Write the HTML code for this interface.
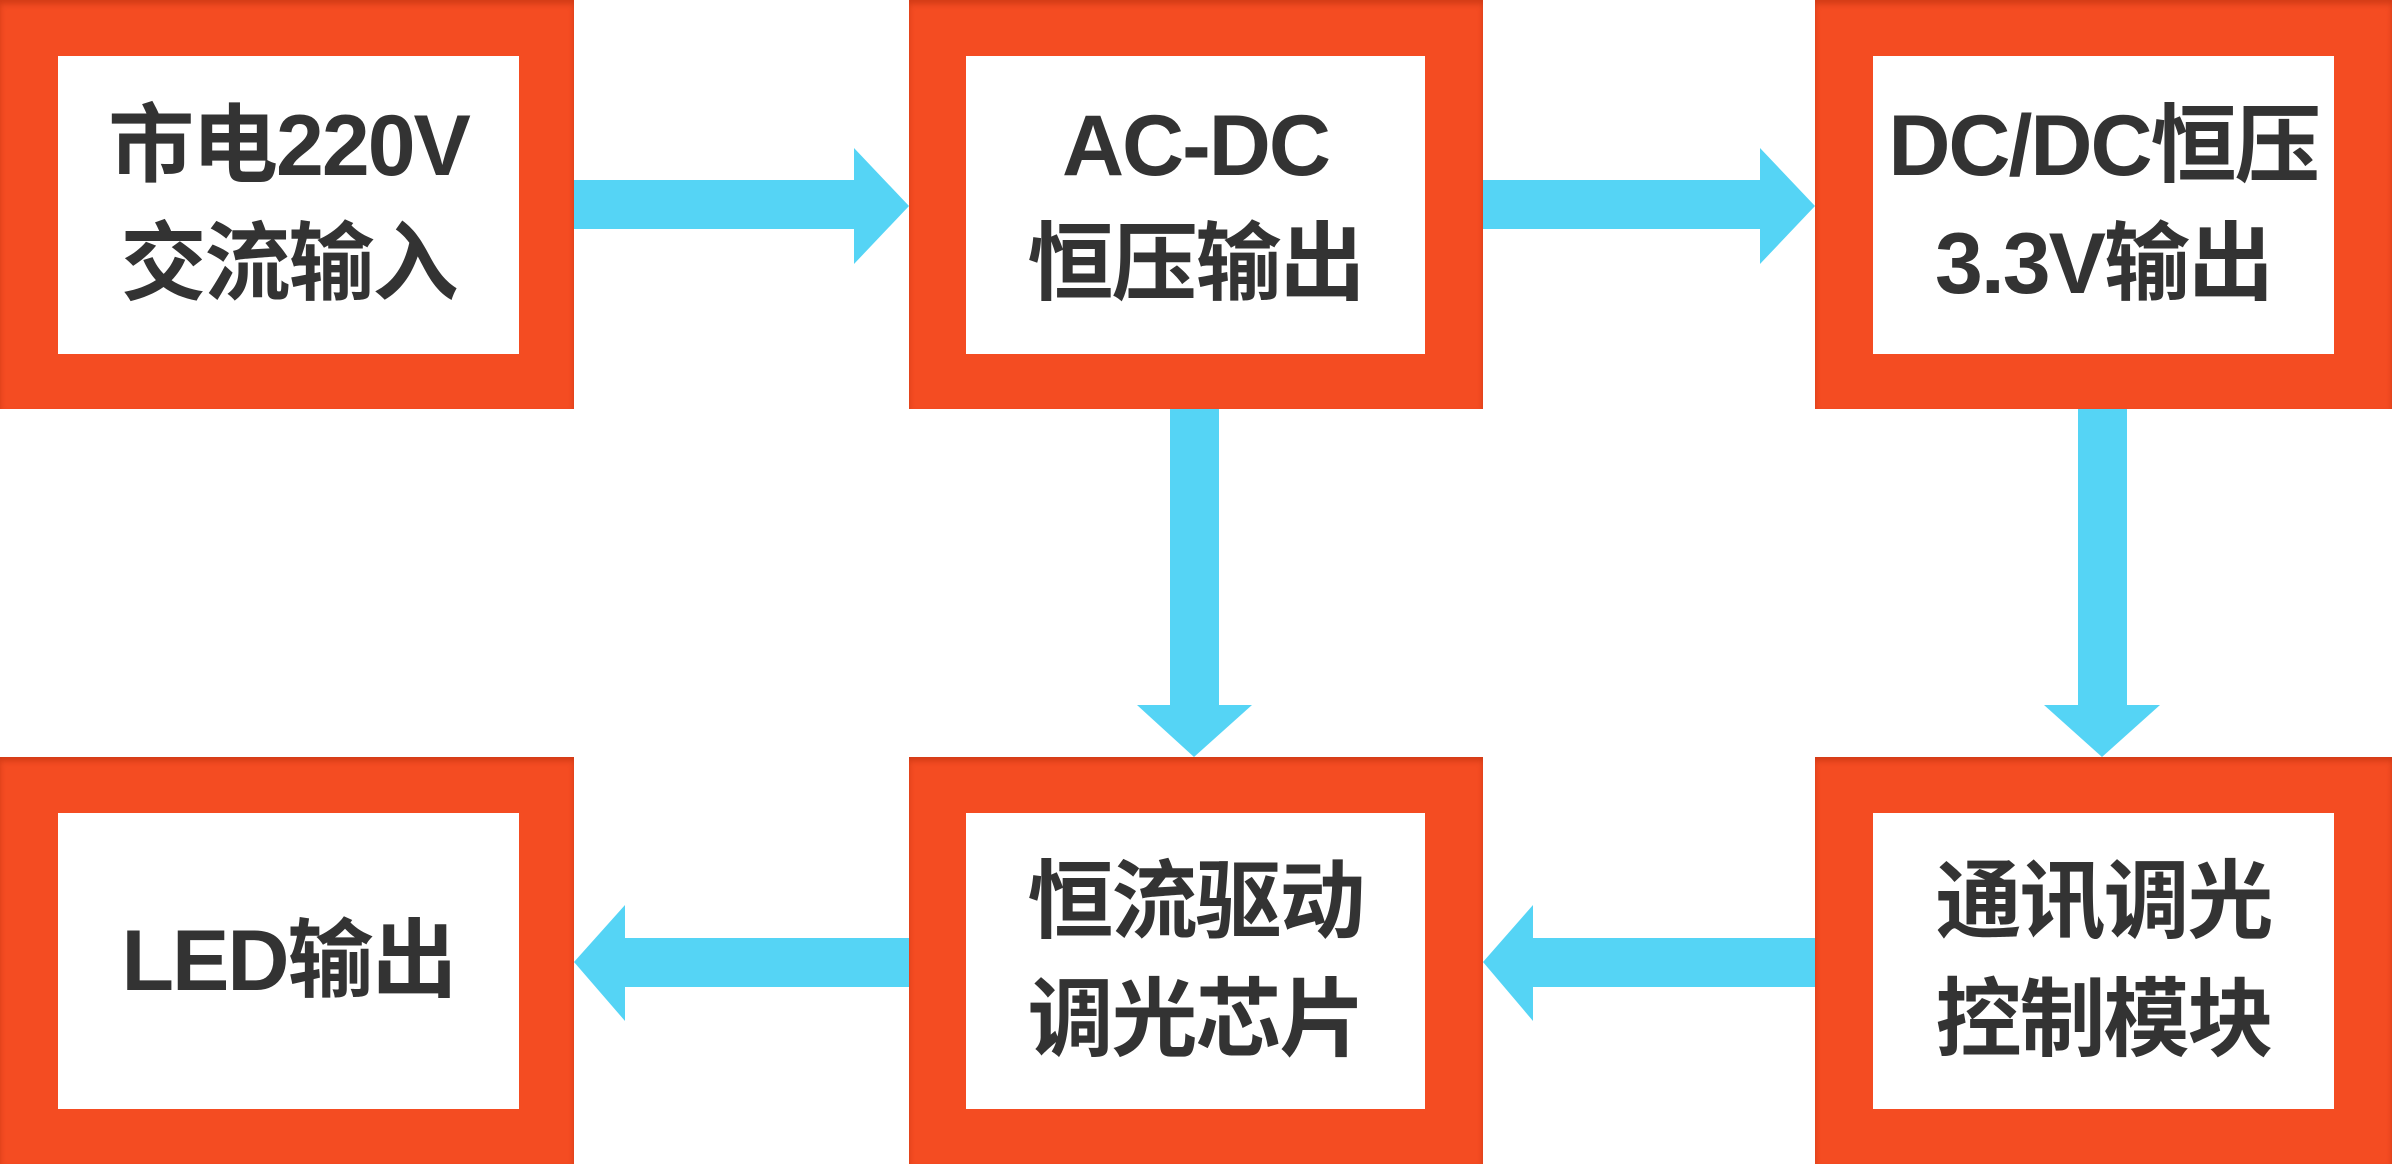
<!DOCTYPE html>
<html><head><meta charset="utf-8"><style>
html,body{margin:0;padding:0;background:#fff;}
body{width:2392px;height:1164px;position:relative;overflow:hidden;font-family:"Liberation Sans","Noto Sans CJK SC",sans-serif;}
.box{position:absolute;background:#f44c22;box-shadow:inset 0 4px 6px rgba(150,30,0,0.35);}
.in{position:absolute;background:#fff;display:flex;align-items:center;justify-content:center;text-align:center;font-weight:bold;font-size:86px;line-height:118px;letter-spacing:-2px;color:#333;white-space:nowrap;}
svg{position:absolute;left:0;top:0;}
</style></head><body>
<div class="box" style="left:0;top:0;width:574px;height:409px"></div>
<div class="in" style="left:58px;top:56px;width:461px;height:298px">市电220V<br>交流输入</div>
<div class="box" style="left:909px;top:0;width:574px;height:409px"></div>
<div class="in" style="left:966px;top:56px;width:459px;height:298px">AC-DC<br>恒压输出</div>
<div class="box" style="left:1815px;top:0;width:577px;height:409px"></div>
<div class="in" style="left:1873px;top:56px;width:461px;height:298px">DC/DC恒压<br>3.3V输出</div>
<div class="box" style="left:0;top:757px;width:574px;height:407px"></div>
<div class="in" style="left:58px;top:813px;width:461px;height:296px">LED输出</div>
<div class="box" style="left:909px;top:757px;width:574px;height:407px"></div>
<div class="in" style="left:966px;top:813px;width:459px;height:296px">恒流驱动<br>调光芯片</div>
<div class="box" style="left:1815px;top:757px;width:577px;height:407px"></div>
<div class="in" style="left:1873px;top:813px;width:461px;height:296px">通讯调光<br>控制模块</div>
<svg width="2392" height="1164">
<g fill="#55d4f5">
<polygon points="574,180 854,180 854,148 909,206 854,264 854,229 574,229"/>
<polygon points="1483,180 1760,180 1760,148 1815,206 1760,264 1760,229 1483,229"/>
<polygon points="1170,409 1219,409 1219,705 1252,705 1194,757 1137,705 1170,705"/>
<polygon points="2078,409 2127,409 2127,705 2160,705 2102,757 2044,705 2078,705"/>
<polygon points="909,938 625,938 625,905 574,962 625,1021 625,987 909,987"/>
<polygon points="1815,938 1533,938 1533,905 1483,962 1533,1021 1533,987 1815,987"/>
</g>
</svg>
</body></html>
